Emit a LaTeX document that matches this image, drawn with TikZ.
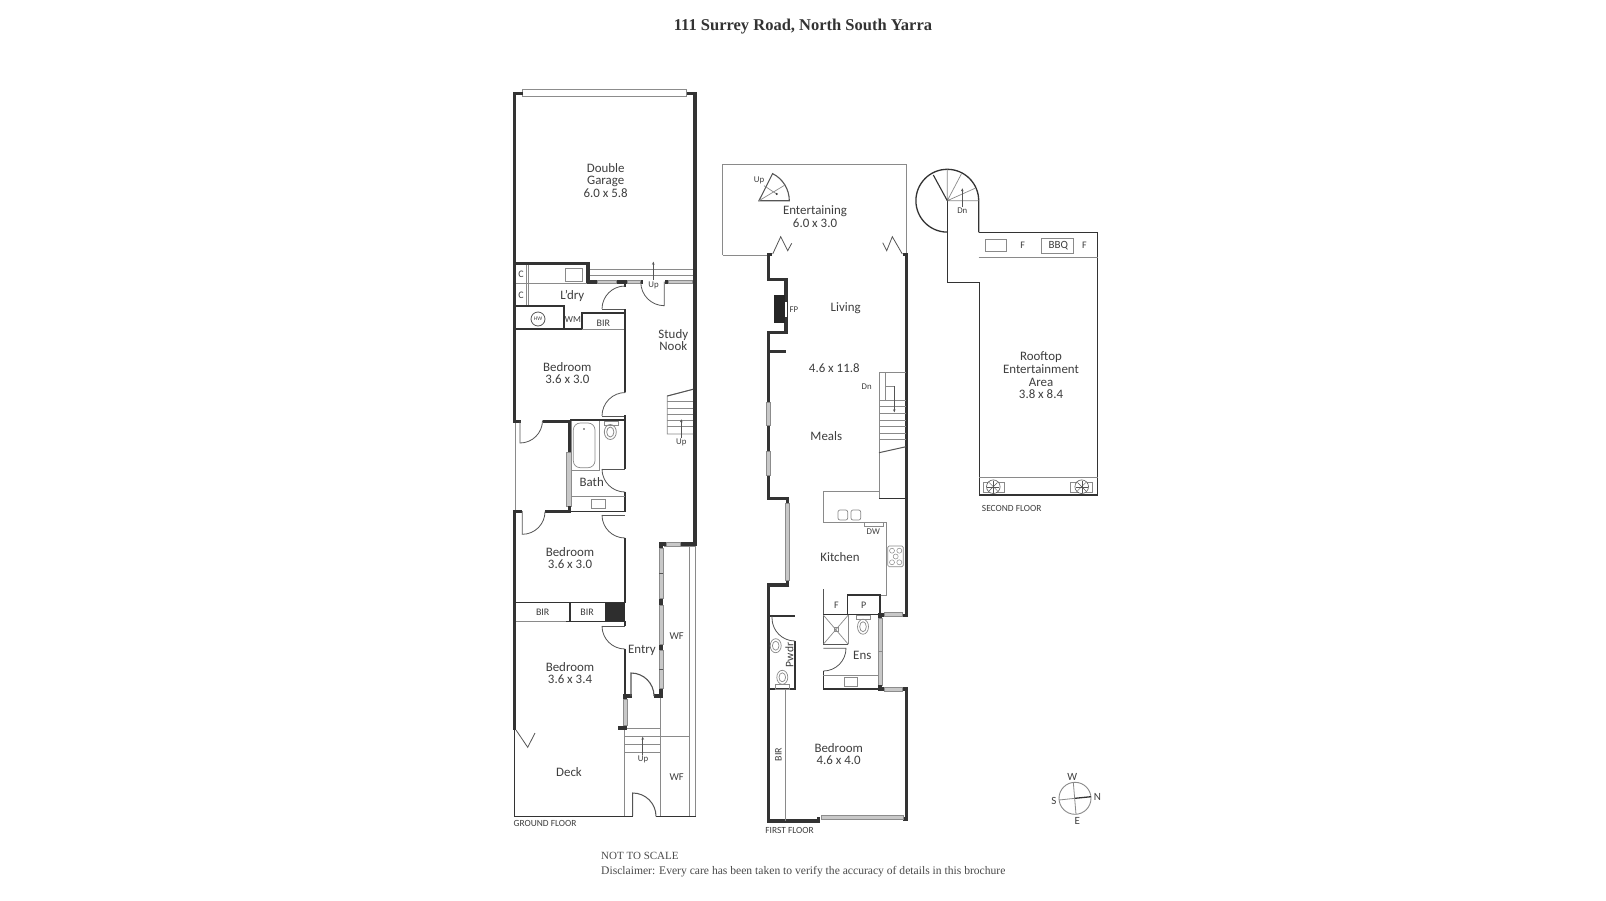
\documentclass[tikz,border=0pt]{standalone}
\usepackage{fontspec}
\setmainfont{Liberation Serif}
\newfontfamily\planfont{Carlito}
\usetikzlibrary{arrows.meta}
\tikzset{
  wall/.style={draw=wallc,line width=3.4pt,line cap=butt,line join=miter},
  midwall/.style={draw=wallc,line width=1.5pt,line cap=butt,line join=miter},
  inner/.style={draw=midc,line width=1pt},
  thin/.style={draw=thinc,line width=0.7pt},
  win/.style={draw=winc,fill=winf,line width=0.6pt},
  door/.style={draw=midc,line width=0.8pt},
  room/.style={font=\planfont\fontsize{12.9}{12.6}\selectfont,text=txtc,align=center,inner sep=0pt},
  small/.style={font=\planfont\fontsize{10}{10}\selectfont,text=txtc,inner sep=0pt},
  tiny/.style={font=\planfont\fontsize{8.8}{9}\selectfont,text=txtc,inner sep=0pt},
  floorlab/.style={font=\planfont\fontsize{9.4}{10}\selectfont,text=txtc,inner sep=0pt},
  note/.style={font=\fontsize{11.6}{13}\selectfont,text=notec,anchor=west,inner sep=0pt},
  arr/.style={draw=midc,line width=0.6pt,-{Stealth[length=3pt,width=2.6pt]}},
}
\definecolor{wallc}{HTML}{333333}
\definecolor{midc}{HTML}{555555}
\definecolor{thinc}{HTML}{8A8A8A}
\definecolor{winc}{HTML}{8C8C8C}
\definecolor{winf}{HTML}{C8C8C8}
\definecolor{txtc}{HTML}{3E3E3E}
\definecolor{notec}{HTML}{4A4A4A}
\begin{document}
\begin{tikzpicture}[x=1pt,y=-1pt]
\useasboundingbox (0,0) rectangle (1606,900);
\fill[white] (0,0) rectangle (1606,900);

%---------- title and notes
\node (title) [font=\bfseries\fontsize{16.5}{18}\selectfont,text=wallc,inner sep=0pt] at (803,27) {111 Surrey Road, North South Yarra};
\node (scale) [note,font=\fontsize{11}{13}\selectfont] at (601,856) {NOT TO SCALE};
\node (disc) [note] at (601,871.7) {Disclaimer: Every care has been taken to verify the accuracy of details in this brochure};

%---------- GROUND FLOOR
% thin outlines
\draw[thin] (689.3,546) -- (689.3,816);
\draw[thin] (695.3,546) -- (695.3,816);
\draw[thin] (664,546) -- (695,546);
\draw[thin] (660.7,696) -- (660.7,816);
\draw[thin] (624.7,728) -- (624.7,816);
\draw[thin] (661,736.3) -- (689,736.3);
\draw[thin] (625,728) -- (661,728) (625,736.3) -- (661,736.3) (625,744) -- (661,744) (625,752) -- (661,752);
\draw[midwall,line width=1pt] (514.4,729) -- (514.4,816) -- (632.7,816);
\draw[midwall,line width=1pt] (656,816) -- (695.6,816);
\draw[thin] (515,421) -- (515,511);
% garage
\draw[win,fill=white] (522.7,89.5) rectangle (686.7,96);
\draw[thin] (589,269.3) -- (693,269.3) (589,275.7) -- (693,275.7);
\draw[wall] (523,93.7) -- (514.5,93.7) -- (514.5,422);
\draw[wall] (687,93.7) -- (695,93.7) -- (695,546);
\draw[wall] (513,263.7) -- (588,263.7) -- (588,283);
\draw[wall] (586.5,282) -- (597,282) (616,282) -- (627,282) (640,282) -- (643,282) (665,282) -- (668,282) (692,282) -- (696,282);
\draw[win] (597,280.5) rectangle (616,283.5) (627,280.5) rectangle (640,283.5) (668,280.5) rectangle (692,283.5);
% laundry
\draw[thin] (516,283) -- (587,283);
\draw[thin] (526,265) -- (526,306) (528,265) -- (528,306);
\draw[thin] (565,268) rectangle (582,281);
\draw[midwall] (516,306) -- (564,306) -- (564,329);
\draw[midwall] (516,329) -- (582,329);
\draw[thin] (582,329) -- (625,329);
\draw[midwall] (582,329) -- (582,313) -- (625,313);
\draw[door] (602,309) -- (625,309);
\draw[midwall] (625,282) -- (625,287) (625,309) -- (625,392);
\draw[door] (664.3,281.7) -- (664.3,305.7) arc[start angle=90,end angle=180,radius=23.5];
\draw[door] (602,309) arc[start angle=180,end angle=270,radius=23];
\draw[door] (538,319) circle[radius=7];
\node (hw) [font=\planfont\fontsize{5.5}{6}\selectfont,text=txtc,inner sep=0pt] at (538,319) {HW};
\node (wm) [small,font=\planfont\fontsize{9.2}{10}\selectfont] at (573,320) {WM};
\node (bir0) [small] at (603.3,323) {BIR};
\node (c1) [small] at (521,274) {C};
\node (c2) [small] at (521,295) {C};
\node (ldry) [room] at (572.3,295.7) {L’dry};
\node (garage) [room] at (605.7,180.4) {Double\\Garage\\6.0 x 5.8};
\node (study) [room] at (673.3,340) {Study\\Nook};
\draw[arr] (653.3,280) -- (653.3,261.7);
\node (upg) [tiny] at (653.5,285.5) {Up};
% bedroom 1
\node (bed1) [room] at (567.3,373) {Bedroom\\3.6 x 3.0};
\draw[door] (602,416) arc[start angle=180,end angle=270,radius=23.5];
\draw[door] (602,416) -- (625,416);
\draw[midwall] (570,420) -- (625,420);
\draw[midwall] (625,415) -- (625,469);
% closet
\draw[wall] (513,421.5) -- (520.5,421.5) (543,421.5) -- (569.5,421.5) -- (569.5,452);
\draw[door] (520,421) -- (520,443) arc[start angle=90,end angle=0,radius=22.5];
\draw[win] (566.6,452) rectangle (571.4,506);
\draw[wall] (569.5,506) -- (569.5,512) (545,511.5) -- (571,511.5);
\draw[midwall] (570,511.5) -- (625,511.5);
\draw[door] (602,515) -- (625,515);
% bath
\draw[thin] (571,421) -- (571,470.7) -- (599,470.7) -- (599,421);
\draw[thin,rounded corners=7pt] (573.3,423) -- (595,423) -- (595,467.7) -- (573.3,467.7) -- cycle;
\fill[wallc] (584,429) circle[radius=0.9];
\draw[thin] (604,421) rectangle (618,425);
\draw[door,draw=thinc] (610.3,432) ellipse[x radius=6,y radius=7.5];
\draw[door,draw=thinc] (610.3,432) ellipse[x radius=3.6,y radius=5];
\draw[door] (602,469) -- (625,469);
\draw[door] (602,469) arc[start angle=180,end angle=90,radius=23];
\draw[midwall] (625,492) -- (625,512);
\draw[thin] (571,496.7) -- (625,496.7);
\draw[thin] (591,499.3) rectangle (605,508.7);
\node (bath) [room] at (591.7,482) {Bath};
% bedroom 2
\draw[wall] (513,511.5) -- (522,511.5);
\draw[wall] (514.5,510) -- (514.5,729.5);
\draw[door] (522.3,511) -- (522.3,534.3) arc[start angle=90,end angle=0,radius=22.7];
\draw[door] (602,515) arc[start angle=180,end angle=90,radius=23];
\draw[midwall] (625,538) -- (625,603);
\node (bed2) [room] at (570,558) {Bedroom\\3.6 x 3.0};
\draw[midwall] (516,602.5) -- (625,602.5);
\fill[wallc!90!black] (605,603) rectangle (625,621);
\draw[midwall] (570,603) -- (570,621);
\node (bir1) [small] at (542.7,612.7) {BIR};
\node (bir2) [small] at (587,612.7) {BIR};
\draw[thin] (516,621.3) -- (566,621.3);
\draw[midwall] (566,621.5) -- (625,621.5);
\draw[midwall] (625,621) -- (625,626);
% bedroom 3 / entry
\draw[door] (602,626) -- (625,626);
\draw[door] (602,626) arc[start angle=180,end angle=90,radius=23];
\draw[midwall] (625,649) -- (625,696);
\node (bed3) [room] at (570,673) {Bedroom\\3.6 x 3.4};
\node (entry) [room] at (642,650.7) {Entry};
\draw[wall] (623,696) -- (631.7,696) (654.3,696) -- (662.8,696);
\draw[door,line width=1.1pt] (631,696) -- (631,673) arc[start angle=270,end angle=360,radius=23];
% front window wall
\draw[wall] (659.3,544) -- (666,544) (680,544) -- (696.7,544);
\draw[win] (666,542.5) rectangle (680,546);
\draw[wall] (661,543) -- (661,548) (661,598) -- (661,605) (661,644) -- (661,650) (661,688) -- (661,697);
\draw[win] (659.2,548) rectangle (662.8,598);
\draw[win] (659.2,605) rectangle (662.8,644);
\draw[win] (659.2,650) rectangle (662.8,688);
\draw[midc,line width=0.5pt] (659.2,573) -- (662.8,573) (659.2,669) -- (662.8,669);
\node (wf1) [room,font=\planfont\fontsize{10.5}{11}\selectfont] at (676.7,636) {WF};
\node (wf2) [room,font=\planfont\fontsize{10.5}{11}\selectfont] at (676.7,776.7) {WF};
% stairs entry
\draw[wall] (625,696) -- (625,699) (625,725) -- (625,730) (618,728) -- (626.5,728);
\draw[win] (623,699) rectangle (627,725);
\draw[arr] (642.7,755) -- (642.7,736.7);
\node (upe) [tiny] at (643,759) {Up};
% deck
\draw[door] (516,730) -- (527.7,747.3) -- (535,733);
\node (deck) [room] at (569,772.3) {Deck};
\draw[door,line width=1pt] (632.7,816) -- (632.7,793) arc[start angle=270,end angle=360,radius=23.3];
\node (gf) [floorlab] at (545,823.7) {GROUND FLOOR};
% study stairs
\draw[thin] (693,389.3) -- (667.3,396) -- (667.3,434) -- (693,434);
\draw[thin] (667.3,401.7) -- (693,401.7) (667.3,408.3) -- (693,408.3) (667.3,414.3) -- (693,414.3) (667.3,420) -- (693,420) (667.3,426.7) -- (693,426.7);
\draw[midc,line width=1pt] (693,389.3) -- (667.3,396);
\draw[arr] (681.3,438) -- (681.3,419.3);
\node (ups) [tiny] at (681.3,442) {Up};

%---------- FIRST FLOOR
\draw[thin] (722.7,255) -- (722.7,164) -- (906.7,164) -- (906.7,254);
\draw[thin] (722.7,255) -- (767,255);
\draw[door,draw=midc] (772.7,254) -- (780.7,236.7) -- (787.7,250.7) -- (791.7,243.3);
\draw[door,draw=midc] (902.3,254) -- (892.3,236.7) -- (886.7,250.7) -- (882.7,242.7);
% spiral up
\draw[door,line width=1.1pt] (759,200.7) -- (789.3,200.7) arc[start angle=0,end angle=-63.4,radius=30.3] -- cycle;
\draw[thin] (759,200.7) -- (785,185);
\draw[thin] (764,185.7) -- (776.7,194);
\fill[wallc] (776.7,194) circle[radius=1.1];
\node (upsp) [tiny] at (759,180.7) {Up};
\node (ent) [room] at (815,216.5) {Entertaining\\6.0 x 3.0};
% outer walls
\draw[wall] (772,254.5) -- (768.3,254.5) -- (768.3,279.3) -- (786,279.3) -- (786,332.7) -- (768.3,332.7) -- (768.3,402.3);
\draw[wall] (768.3,351.3) -- (786,351.3);
\draw[wall] (768.3,425) -- (768.3,451) (768.3,475) -- (768.3,498.3) -- (789.3,498.3);
\draw[wall] (787.7,498) -- (787.7,503.3);
\draw[win] (766.2,402.3) rectangle (770.4,425) (766.2,451) rectangle (770.4,475);
\draw[win] (785.7,503.3) rectangle (789.7,580.7);
\draw[wall] (787.7,580.7) -- (787.7,586);
\draw[wall] (789.3,585) -- (768.3,585) -- (768.3,821) -- (818.3,821) -- (818.3,817);
\draw[wall] (902.7,254.5) -- (906.3,254.5) -- (906.3,615.7) -- (902.7,615.7);
\fill[black!85] (774,295.3) rectangle (785,323.3);
\fill[white] (785,301.7) rectangle (786.8,316.7);
\node (fp) [tiny] at (793.8,309.3) {FP};
\node (living) [room] at (845.7,308.3) {Living};
\node (area) [room] at (834.3,368.3) {4.6 x 11.8};
\node (meals) [room] at (826.3,436) {Meals};
% stairs down
\draw[thin] (879,498.3) -- (879,372.3) -- (906,372.3);
\draw[thin] (885.7,372.3) -- (885.7,400);
\draw[thin] (885,386) -- (894.3,386);
\draw[thin] (879,400) -- (906,400) (879,406) -- (906,406) (879,413.3) -- (906,413.3) (879,420) -- (906,420) (879,426.7) -- (906,426.7) (879,433.3) -- (906,433.3) (879,439.3) -- (906,439.3);
\draw[midc,line width=1pt] (879,452.7) -- (906,446.7);
\draw[arr] (894.3,386) -- (894.3,412.3);
\draw[midwall] (879,498.3) -- (906,498.3);
\node (dn) [tiny] at (866.7,386.7) {Dn};
% kitchen
\draw[thin] (879,491.7) -- (823.3,491.7) -- (823.3,522.3) -- (886,522.3) -- (886,595) -- (880,595);
\draw[thin,rounded corners=2pt] (838,510) rectangle (847.7,520);
\draw[thin,rounded corners=2pt] (851,510) rectangle (860.7,520);
\draw[thin] (864,522.3) -- (864,526.7) -- (883.3,526.7) -- (883.3,522.3);
\node (dw) [tiny] at (873.3,531.7) {DW};
\draw[thin,rounded corners=1.5pt] (887.7,546) rectangle (903.3,566.7);
\foreach \cx/\cy in {892/550.7,899.3/550.7,892/562.3,899.3/562.3,895.7/556.5}{\draw[thin,line width=0.5pt] (\cx,\cy) circle[radius=2.5];}
\node (kitchen) [room] at (840,557.3) {Kitchen};
% F, P
\draw[inner] (823.3,589.3) -- (823.3,644.3);
\draw[midwall] (847.7,615) -- (847.7,595) -- (880,595) -- (880,615);
\draw[midwall] (823.3,614.6) -- (880,614.6);
\node (f1) [small] at (836.3,605) {F};
\node (p1) [small] at (863.7,605) {P};
% ensuite
\draw[thin] (823.3,615) -- (848.3,644.3) (848.3,615) -- (823.3,644.3);
\draw[thin] (848.3,615) -- (848.3,644.3);
\draw[inner] (823.3,644.3) -- (848.3,644.3);
\draw[thin] (834.3,627.3) rectangle (838.3,631.3);
\draw[thin] (856.7,615) rectangle (870,619);
\draw[thin] (863,626.7) ellipse[x radius=5.5,y radius=7.5];
\draw[thin] (863,626.7) ellipse[x radius=3.3,y radius=5];
\draw[door] (823.3,648.3) -- (846,648.3) arc[start angle=0,end angle=90,radius=22.7];
\draw[midwall] (823.3,671) -- (823.3,689) -- (880,689);
\draw[thin] (823.3,675) -- (878,675);
\draw[thin] (844.3,677.3) rectangle (857.7,686.7);
\node (ens) [room] at (862.3,655.7) {Ens};
\draw[win] (878,618) rectangle (882.4,685);
\draw[thin] (878,651.7) -- (882.4,651.7);
\draw[wall] (880,612.5) -- (880,618) (878,615) -- (884,615);
\draw[win] (884,612.6) rectangle (902.7,616);
\draw[wall] (880,685) -- (880,690) (878,689) -- (884,689);
% bedroom
\draw[win] (884,687.3) rectangle (902.7,690.9);
\draw[wall] (902.7,689) -- (906.3,689) -- (906.3,818.8) -- (902.7,818.8);
\draw[win] (821.7,815.4) rectangle (903,819.3);
\draw[thin] (785.7,690) -- (785.7,821);
\node (birf) [small,rotate=90] at (778.3,754.3) {BIR};
\node (bedf) [room] at (838.7,754) {Bedroom\\4.6 x 4.0};
\node (ff) [floorlab] at (789.5,830) {FIRST FLOOR};
% powder
\draw[midwall] (768,689) -- (795,689) -- (795,641);
\draw[midwall] (768,616) -- (795,616);
\draw[door] (772,616) -- (772,618) arc[start angle=180,end angle=90,radius=23];
\draw[thin] (775.7,645.7) ellipse[x radius=5.5,y radius=7];
\draw[thin] (775.7,645.7) ellipse[x radius=3.3,y radius=4.5];
\draw[thin] (782.3,677.3) ellipse[x radius=5.5,y radius=7];
\draw[thin] (782.3,677.3) ellipse[x radius=3.3,y radius=4.5];
\draw[thin] (775.7,684) rectangle (789,689);
\node (pwdr) [room,rotate=90,font=\planfont\fontsize{11.5}{12}\selectfont] at (789.3,655) {Pwdr};

%---------- SECOND FLOOR
\draw[midwall,line width=1.3pt] (978.7,232.3) -- (978.7,200.7) arc[start angle=0,end angle=-270,radius=31.4];
\draw[midwall,line width=1.3pt] (947.3,200.7) -- (947.3,282.7) -- (979.3,282.7) -- (979.3,495) -- (1097.7,495) -- (1097.7,232.3) -- (978.7,232.3);
\draw[thin] (947.3,200.7) -- (978.7,200.7) (947.3,200.7) -- (975,188.3) (947.3,200.7) -- (961.7,173.3) (947.3,200.7) -- (947.3,169.3);
\draw[midwall,line width=1.1pt] (947.3,200.7) -- (933.3,175);
\draw[arr] (962.3,206.7) -- (962.3,188.3);
\node (dn2) [tiny] at (962.3,211) {Dn};
\draw[thin] (978.7,257.7) -- (1097.7,257.7);
\draw[thin] (985,239.3) rectangle (1006.7,251.3);
\draw[thin] (1041.7,238.3) rectangle (1073.3,253.7);
\node (f2) [small] at (1022.7,245.7) {F};
\node (bbq) [small,font=\planfont\fontsize{11}{11}\selectfont] at (1058.3,245.7) {BBQ};
\node (f3) [small] at (1084.3,245.7) {F};
\node (roof) [room] at (1041,375.5) {Rooftop\\Entertainment\\Area\\3.8 x 8.4};
\draw[thin] (979,477.7) -- (1097.7,477.7);
\foreach \fx/\fb in {993.3/983.3,1081.7/1070.7}{
  \draw[thin] (\fb,482.3) rectangle ++(21.5,10);
  \draw[midc,fill=white,line width=0.6pt] (\fx,486.7) circle[radius=6.8];
  \foreach \a in {0,45,...,315}{\draw[midc,line width=0.4pt] (\fx,486.7) -- ++(\a:6);}
}
\node (sf) [floorlab] at (1011.7,508) {SECOND FLOOR};

%---------- compass
\draw[door,draw=thinc,line width=0.9pt] (1075,798.3) circle[radius=16];
\draw[thin,line width=0.8pt] (1073.3,782.3) -- (1076,814.3) (1059,800) -- (1075,798.3);
\draw[wallc,line width=1.3pt] (1075,798.3) -- (1091,796.7);
\node (cw) [small,font=\planfont\fontsize{11}{11}\selectfont] at (1072.3,776.7) {W};
\node (cn) [small,font=\planfont\fontsize{11}{11}\selectfont] at (1097.3,796.7) {N};
\node (cs) [small,font=\planfont\fontsize{11}{11}\selectfont] at (1054,800.7) {S};
\node (ce) [small,font=\planfont\fontsize{11}{11}\selectfont] at (1077.3,821) {E};
\end{tikzpicture}
\end{document}
